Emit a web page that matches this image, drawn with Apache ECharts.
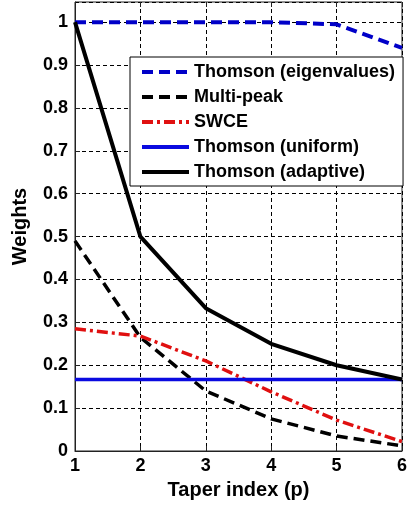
<!DOCTYPE html>
<html>
<head>
<meta charset="utf-8">
<script src="https://cdn.jsdelivr.net/npm/echarts@6/dist/echarts.min.js"></script>
<style>
html,body{margin:0;padding:0;background:#fff;}
#chart{width:410px;height:506px;}
</style>
</head>
<body>
<div id="chart"></div>
<script>
const taperIndex = [1, 2, 3, 4, 5, 6];
const thomsonEigen = [1, 1, 1, 1, 0.995, 0.94];
const multiPeak = [0.49, 0.265, 0.14, 0.075, 0.035, 0.012];
const swce = [0.285, 0.268, 0.21, 0.138, 0.072, 0.022];
const thomsonUniform = [0.1667, 0.1667, 0.1667, 0.1667, 0.1667, 0.1667];
const thomsonAdaptive = [1, 0.5, 0.333, 0.25, 0.2, 0.1667];
const seriesNames = ['Thomson (eigenvalues)', 'Multi-peak', 'SWCE', 'Thomson (uniform)', 'Thomson (adaptive)'];

const pairs = arr => taperIndex.map((x, i) => [x, arr[i]]);
const font = 'Liberation Sans, Arial, sans-serif';

const chart = echarts.init(document.getElementById('chart'), null, {renderer: 'canvas'});
const mk = (name, data, color, type, width) => ({
  name, type: 'line', data: pairs(data), symbol: 'none', showSymbol: false,
  lineStyle: {color, type, width, cap: 'butt'}, itemStyle: {color},
  animation: false, z: 3
});
chart.setOption({
  animation: false,
  backgroundColor: '#fff',
  grid: {left: 75, right: 1, top: 2, bottom: 55, show: true, borderColor: '#222', borderWidth: 1},
  legend: {
    orient: 'vertical', left: 130, top: 57,
    itemWidth: 47, itemHeight: 18, itemGap: 7,
    padding: [6, 8, 5, 10],
    borderColor: '#000', borderWidth: 1, backgroundColor: '#fff',
    itemStyle: {opacity: 0},
    lineStyle: {width: 4},
    textStyle: {fontFamily: font, fontWeight: 'bold', fontSize: 18, color: '#000'},
    data: seriesNames, z: 10
  },
  xAxis: [{
    type: 'value', min: 1, max: 6, interval: 1,
    name: 'Taper index (p)', nameLocation: 'middle', nameGap: 29,
    nameTextStyle: {fontFamily: font, fontWeight: 'bold', fontSize: 20, color: '#000'},
    axisLine: {lineStyle: {color: '#222', width: 1}},
    axisTick: {inside: true, length: 5, lineStyle: {color: '#222'}},
    axisLabel: {fontFamily: font, fontWeight: 'bold', fontSize: 18, color: '#000', margin: 6},
    splitLine: {show: true, lineStyle: {color: '#000', type: [4, 3], width: 1}}
  }, {
    type: 'value', min: 1, max: 6, interval: 1, position: 'top',
    axisLine: {show: false},
    axisTick: {inside: true, length: 5, lineStyle: {color: '#222'}},
    axisLabel: {show: false}, splitLine: {show: false}
  }],
  yAxis: [{
    type: 'value', min: 0, max: 1.047, interval: 0.1,
    name: 'Weights', nameLocation: 'middle', nameGap: 45, nameRotate: 90,
    nameTextStyle: {fontFamily: font, fontWeight: 'bold', fontSize: 20, color: '#000'},
    axisLine: {show: true, lineStyle: {color: '#222', width: 1}},
    axisTick: {inside: true, length: 5, lineStyle: {color: '#222'}},
    axisLabel: {fontFamily: font, fontWeight: 'bold', fontSize: 18, color: '#000', margin: 7,
      showMaxLabel: false, formatter: v => (Math.round(v * 10) / 10).toString()},
    splitLine: {show: true, lineStyle: {color: '#000', type: [4, 3], width: 1}}
  }],
  series: [
    mk(seriesNames[0], thomsonEigen, '#0000c8', [11, 6], 4),
    mk(seriesNames[1], multiPeak, '#000000', [11, 6], 3.5),
    mk(seriesNames[2], swce, '#e01010', [11, 4, 3, 4], 3.5),
    mk(seriesNames[3], thomsonUniform, '#0a0ae0', 'solid', 3.5),
    mk(seriesNames[4], thomsonAdaptive, '#000000', 'solid', 4)
  ]
});
</script>
</body>
</html>
